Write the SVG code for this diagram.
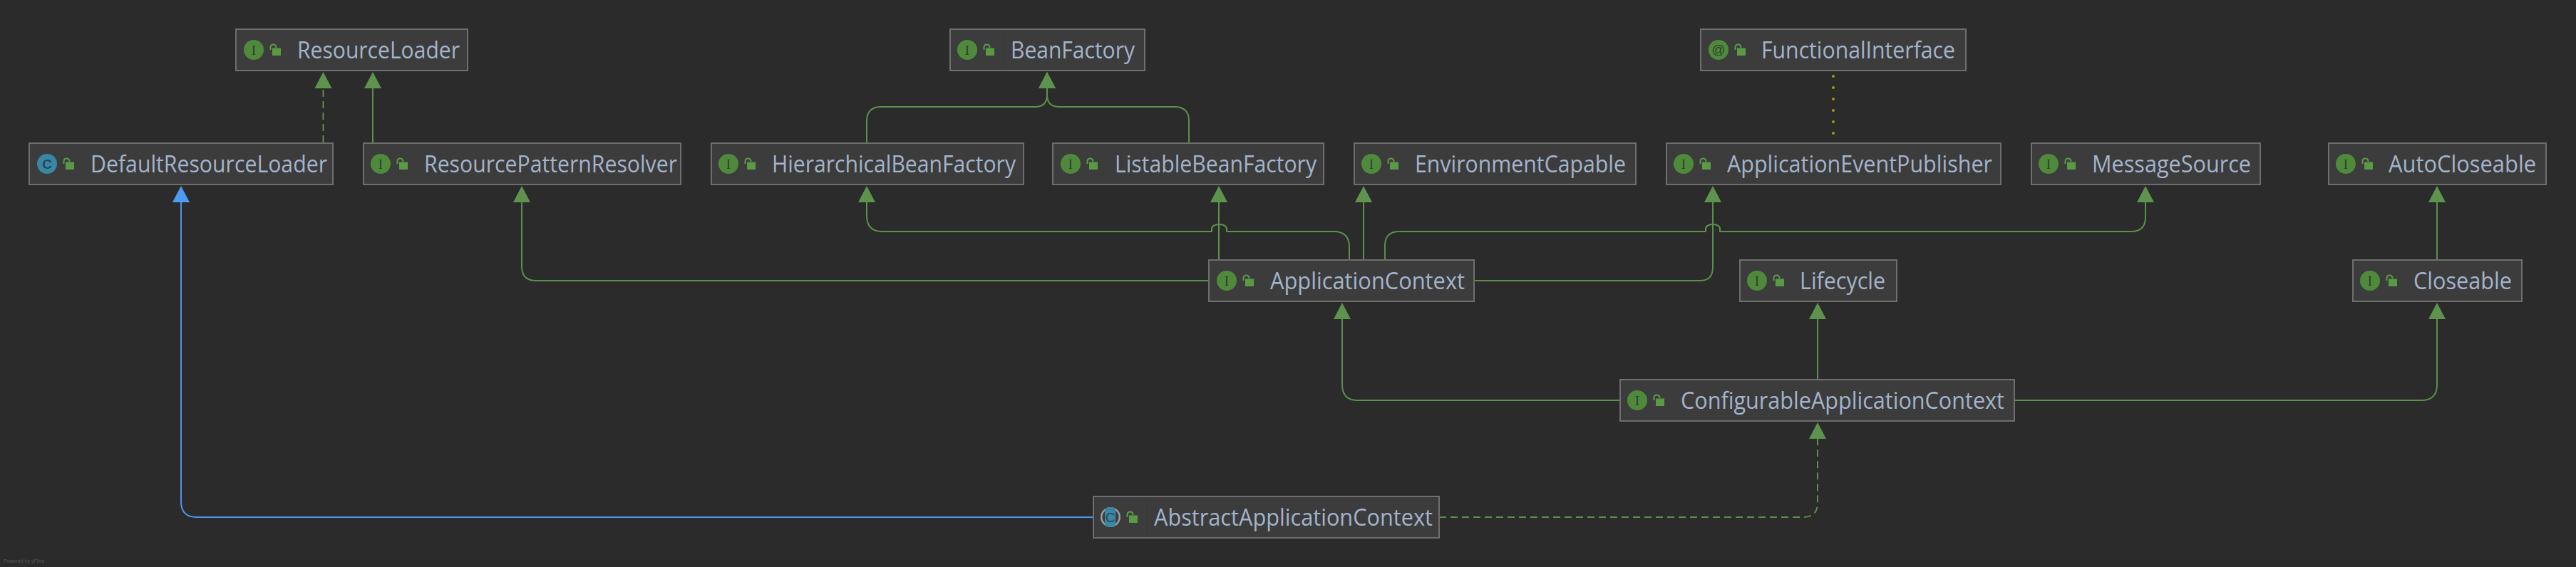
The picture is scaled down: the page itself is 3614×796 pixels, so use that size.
<svg xmlns="http://www.w3.org/2000/svg" xmlns:xlink="http://www.w3.org/1999/xlink" width="3614" height="796" viewBox="0 0 3614 796">
<style>
.box{fill:#3c3c3c;stroke:#6e6e6e;stroke-width:2}
.lbl{font-family:"Open Sans","Noto Sans","Liberation Sans",sans-serif;font-size:32px;fill:#a3b4cb}
.ico{font-size:19px;fill:#2f3f2c;text-anchor:middle}
.ig{font-family:"Liberation Serif",serif}
.ic{font-family:"Liberation Sans",sans-serif;font-weight:bold;fill:#25485a}
.g{fill:#4f8a3c}
.t{fill:#3a87a3}
.e{fill:none;stroke:#5b8f4b;stroke-width:2}
.d{stroke-dasharray:10 6}
.b{fill:none;stroke:#4c94ee;stroke-width:2}
.o{fill:none;stroke:#a0a000;stroke-width:4;stroke-linecap:round;stroke-dasharray:.01 16}
.sep{stroke:#393939;stroke-width:1}
</style>
<defs>
<marker id="ag" markerUnits="userSpaceOnUse" markerWidth="24" markerHeight="24" viewBox="0 0 24 24" refX="0" refY="12" orient="auto"><path d="M0 0L23 12L0 24Z" fill="#5e934e"/></marker>
<marker id="ab" markerUnits="userSpaceOnUse" markerWidth="24" markerHeight="24" viewBox="0 0 24 24" refX="0" refY="12" orient="auto"><path d="M0 0L23 12L0 24Z" fill="#4f9bf3"/></marker>
<g id="lock"><rect x="52" y="27.500" width="12" height="10.500" fill="#5b9a45"/><path d="M49.500 30V26.500Q49.500 22.500 53.500 22.500Q57.500 22.500 57.500 27" fill="none" stroke="#5b9a45" stroke-width="2"/></g>
<clipPath id="cc"><circle cx="1558" cy="726" r="14"/></clipPath>
</defs>
<rect id="background" width="3614" height="796" fill="#2b2b2b"/>
<g id="connectors">
<path class="e d" marker-end="url(#ag)" d="M453.500 200V124"/>
<path class="e" marker-end="url(#ag)" d="M523 200V124"/>
<path class="e" marker-end="url(#ag)" d="M1216 200V170Q1216 150 1236 150H1452Q1469 150 1469 133V124"/>
<path class="e" marker-end="url(#ag)" d="M1668 200V170Q1668 150 1648 150H1486Q1469 150 1469 133V124"/>
<path class="e" marker-end="url(#ag)" d="M1695 394H752Q732 394 732 374V284"/>
<path class="e" marker-end="url(#ag)" d="M1893 364V347Q1893 325 1871 325H1721V322Q1721 315 1710.500 315Q1700 315 1700 322V325H1238Q1216 325 1216 303V284"/>
<path class="e" marker-end="url(#ag)" d="M1710 364V284"/>
<path class="e" marker-end="url(#ag)" d="M1913 364V284"/>
<path class="e" marker-end="url(#ag)" d="M1943 364V345Q1943 325 1963 325H2393V322Q2393 315 2403 315Q2413 315 2413 322V325H2990Q3010 325 3010 305V284"/>
<path class="e" marker-end="url(#ag)" d="M2068 394H2385Q2403 394 2403 375V284"/>
<path class="o" d="M2572 107V190"/>
<path class="e" marker-end="url(#ag)" d="M3419 364V284"/>
<path class="e" marker-end="url(#ag)" d="M2272 562H1905Q1883 562 1883 540V448"/>
<path class="e" marker-end="url(#ag)" d="M2550 532V448"/>
<path class="e" marker-end="url(#ag)" d="M2826 562H3397Q3419 562 3419 540V448"/>
<path class="e d" marker-end="url(#ag)" d="M2019 726H2530Q2550 726 2550 706V616"/>
<path class="b" marker-end="url(#ab)" d="M1533 726H276Q254 726 254 704V284"/>
</g>
<g id="node-ResourceLoader"><rect class="box" x="331" y="41" width="325" height="58"/><circle class="g" cx="356" cy="70" r="14"/><text class="ico ig" x="356" y="76.500">I</text><use href="#lock" x="330" y="40"/><text class="lbl" x="417" y="82" textLength="228" lengthAdjust="spacingAndGlyphs">ResourceLoader</text></g>
<g id="node-DefaultResourceLoader"><rect class="box" x="41" y="201" width="426" height="58"/><circle class="t" cx="66" cy="230" r="14"/><text class="ico ic" x="66" y="236.500">C</text><use href="#lock" x="40" y="200"/><text class="lbl" x="127" y="242" textLength="332" lengthAdjust="spacingAndGlyphs">DefaultResourceLoader</text></g>
<g id="node-ResourcePatternResolver"><rect class="box" x="510" y="201" width="445" height="58"/><circle class="g" cx="534" cy="230" r="14"/><text class="ico ig" x="534" y="236.500">I</text><use href="#lock" x="508" y="200"/><text class="lbl" x="595" y="242" textLength="355" lengthAdjust="spacingAndGlyphs">ResourcePatternResolver</text></g>
<g id="node-BeanFactory"><rect class="box" x="1333" y="41" width="273" height="58"/><path class="sep" d="M1408 42V98"/><circle class="g" cx="1357" cy="70" r="14"/><text class="ico ig" x="1357" y="76.500">I</text><use href="#lock" x="1331" y="40"/><text class="lbl" x="1418" y="82" textLength="174" lengthAdjust="spacingAndGlyphs">BeanFactory</text></g>
<g id="node-HierarchicalBeanFactory"><rect class="box" x="998" y="201" width="438" height="58"/><circle class="g" cx="1022" cy="230" r="14"/><text class="ico ig" x="1022" y="236.500">I</text><use href="#lock" x="996" y="200"/><text class="lbl" x="1083" y="242" textLength="342" lengthAdjust="spacingAndGlyphs">HierarchicalBeanFactory</text></g>
<g id="node-ListableBeanFactory"><rect class="box" x="1477" y="201" width="380" height="58"/><circle class="g" cx="1502" cy="230" r="14"/><text class="ico ig" x="1502" y="236.500">I</text><use href="#lock" x="1476" y="200"/><text class="lbl" x="1564" y="242" textLength="283" lengthAdjust="spacingAndGlyphs">ListableBeanFactory</text></g>
<g id="node-EnvironmentCapable"><rect class="box" x="1900" y="201" width="395" height="58"/><circle class="g" cx="1924" cy="230" r="14"/><text class="ico ig" x="1924" y="236.500">I</text><use href="#lock" x="1898" y="200"/><text class="lbl" x="1985" y="242" textLength="296" lengthAdjust="spacingAndGlyphs">EnvironmentCapable</text></g>
<g id="node-FunctionalInterface"><rect class="box" x="2386" y="41" width="372" height="58"/><circle class="g" cx="2411" cy="70" r="14"/><text class="ico ig" x="2411" y="76" style="font-family:'Liberation Sans',sans-serif">@</text><use href="#lock" x="2385" y="40"/><text class="lbl" x="2471" y="82" textLength="272" lengthAdjust="spacingAndGlyphs">FunctionalInterface</text></g>
<g id="node-ApplicationEventPublisher"><rect class="box" x="2338" y="201" width="469" height="58"/><circle class="g" cx="2362" cy="230" r="14"/><text class="ico ig" x="2362" y="236.500">I</text><use href="#lock" x="2336" y="200"/><text class="lbl" x="2423" y="242" textLength="372" lengthAdjust="spacingAndGlyphs">ApplicationEventPublisher</text></g>
<g id="node-MessageSource"><rect class="box" x="2850" y="201" width="321" height="58"/><circle class="g" cx="2874" cy="230" r="14"/><text class="ico ig" x="2874" y="236.500">I</text><use href="#lock" x="2848" y="200"/><text class="lbl" x="2935" y="242" textLength="223" lengthAdjust="spacingAndGlyphs">MessageSource</text></g>
<g id="node-AutoCloseable"><rect class="box" x="3267" y="201" width="305" height="58"/><circle class="g" cx="3291" cy="230" r="14"/><text class="ico ig" x="3291" y="236.500">I</text><use href="#lock" x="3265" y="200"/><text class="lbl" x="3351" y="242" textLength="207" lengthAdjust="spacingAndGlyphs">AutoCloseable</text></g>
<g id="node-ApplicationContext"><rect class="box" x="1696" y="365" width="372" height="58"/><circle class="g" cx="1721" cy="394" r="14"/><text class="ico ig" x="1721" y="400.500">I</text><use href="#lock" x="1695" y="364"/><text class="lbl" x="1782" y="406" textLength="273" lengthAdjust="spacingAndGlyphs">ApplicationContext</text></g>
<g id="node-Lifecycle"><rect class="box" x="2441" y="365" width="220" height="58"/><circle class="g" cx="2465" cy="394" r="14"/><text class="ico ig" x="2465" y="400.500">I</text><use href="#lock" x="2439" y="364"/><text class="lbl" x="2525" y="406" textLength="120" lengthAdjust="spacingAndGlyphs">Lifecycle</text></g>
<g id="node-Closeable"><rect class="box" x="3301" y="365" width="237" height="58"/><circle class="g" cx="3325" cy="394" r="14"/><text class="ico ig" x="3325" y="400.500">I</text><use href="#lock" x="3299" y="364"/><text class="lbl" x="3386" y="406" textLength="138" lengthAdjust="spacingAndGlyphs">Closeable</text></g>
<g id="node-ConfigurableApplicationContext"><rect class="box" x="2273" y="533" width="553" height="58"/><circle class="g" cx="2297" cy="562" r="14"/><text class="ico ig" x="2297" y="568.500">I</text><use href="#lock" x="2271" y="532"/><text class="lbl" x="2358" y="574" textLength="454" lengthAdjust="spacingAndGlyphs">ConfigurableApplicationContext</text></g>
<g id="node-AbstractApplicationContext"><rect class="box" x="1534" y="697" width="485" height="58"/><path class="sep" d="M1609 698V754"/><circle cx="1558" cy="726" r="14" fill="#9a9e9e"/><circle cx="1558" cy="726" r="11.500" fill="#3c3c3c"/><rect class="t" x="1550" y="712" width="15" height="28" clip-path="url(#cc)"/><text class="ico ic" x="1557.500" y="732.500" style="font-weight:normal">C</text><use href="#lock" x="1532" y="696"/><text class="lbl" x="1619" y="738" textLength="391" lengthAdjust="spacingAndGlyphs">AbstractApplicationContext</text></g>
<text x="5" y="790" font-family="Liberation Sans, sans-serif" font-size="7" fill="#565656">Powered by yFiles</text>
</svg>
